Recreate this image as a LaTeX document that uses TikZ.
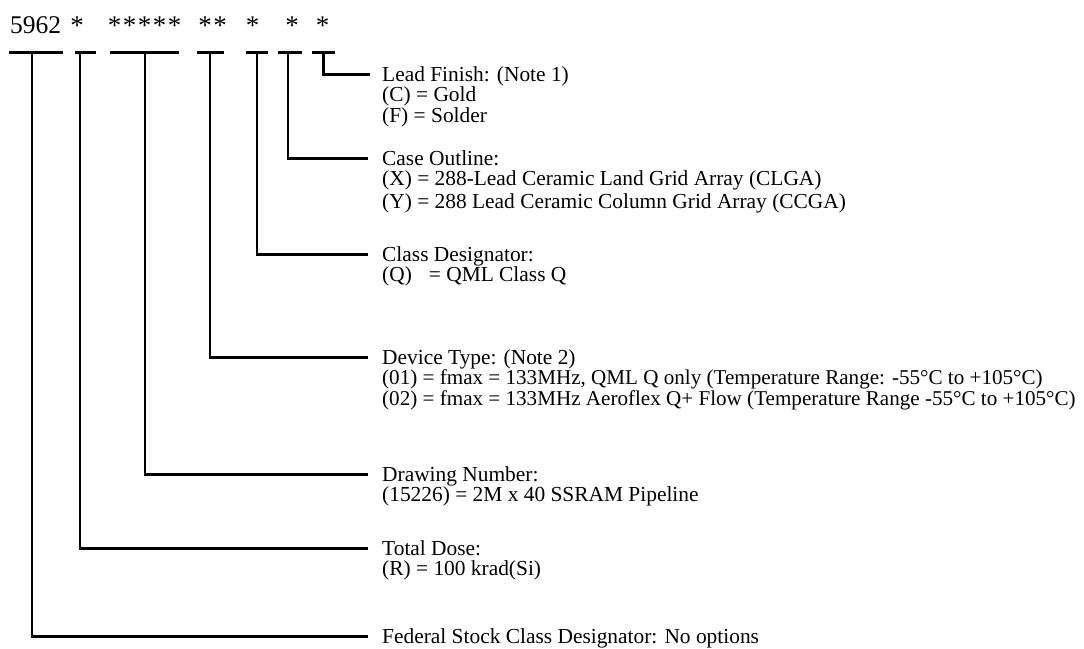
\documentclass[tikz,border=0pt]{standalone}
\usepackage{fontspec}
\setmainfont{Liberation Serif}
\begin{document}
\begin{tikzpicture}[x=1pt,y=-1pt,
  bar/.style={line width=3pt, line cap=butt},
  stem/.style={line width=1.5pt},
  lead/.style={line width=3pt, line join=miter},
  lbl/.style={anchor=base west, inner sep=0pt, text height=16pt, text depth=2pt, font=\fontsize{21.4}{20.5}\selectfont},
  narrow/.style={font=\fontsize{21.1}{20.5}\selectfont},
  top/.style={anchor=base, inner sep=0pt, font=\fontsize{25.5}{28}\selectfont},
  ast/.style={anchor=base, inner sep=0pt, font=\fontsize{27}{28}\selectfont}]
\useasboundingbox (0,0) rectangle (1084,648);
% top row
\node[top, anchor=base west] (num) at (10,33) {5962};
\foreach \n/\x in {a/77, b1/114.5, b2/129.5, b3/144.5, b4/159.5, b5/174.5, c1/205, c2/220, d/252.5, e/292, f/322.5}
  \node[ast] (ast\n) at (\x,34) {*};
% bars under the groups
\draw[bar] (9,52) -- (63,52);
\draw[bar] (75,52) -- (96,52);
\draw[bar] (110,52) -- (179,52);
\draw[bar] (197,52) -- (224,52);
\draw[bar] (246,52) -- (268,52);
\draw[bar] (278,52) -- (302,52);
\draw[bar] (312,52) -- (335,52);
\coordinate (s1) at (32,52);
\coordinate (s2) at (80,52);
\coordinate (s3) at (145,52);
\coordinate (s4) at (210,52);
\coordinate (s5) at (257,52);
\coordinate (s6) at (288,52);
\coordinate (s7) at (323,52);
% labels
\node[lbl] (leadA) at (382,81) {Lead Finish: (Note 1)};
\node[lbl] (leadB) at (382,101.5) {(C) = Gold};
\node[lbl] (leadC) at (382,122) {(F) = Solder};
\node[lbl] (caseA) at (382,165) {Case Outline:};
\node[lbl] (caseB) at (382,185.5) {(X) = 288-Lead Ceramic Land Grid Array (CLGA)};
\node[lbl] (caseC) at (382,208) {(Y) = 288 Lead Ceramic Column Grid Array (CCGA)};
\node[lbl] (classA) at (382,261) {Class Designator:};
\node[lbl] (classB) at (382,281.5) {(Q)\hspace{17pt}= QML Class Q};
\node[lbl] (devA) at (382,364) {Device Type: (Note 2)};
\node[lbl, narrow] (devB) at (382,384.5) {(01) = fmax = 133MHz, QML Q only (Temperature Range: -55°C to +105°C)};
\node[lbl, narrow] (devC) at (382,405) {(02) = fmax = 133MHz Aeroflex Q+ Flow (Temperature Range -55°C to +105°C)};
\node[lbl] (drwA) at (382,481) {Drawing Number:};
\node[lbl] (drwB) at (382,501.5) {(15226) = 2M x 40 SSRAM Pipeline};
\node[lbl] (totA) at (382,555) {Total Dose:};
\node[lbl] (totB) at (382,575.5) {(R) = 100 krad(Si)};
\node[lbl] (fedA) at (382,643) {Federal Stock Class Designator: No options};
% connectors
\draw[lead] (s7) |- ([xshift=-12pt]leadA.west);
\foreach \s/\t in {s6/caseA, s5/classA, s4/devA, s3/drwA, s2/totA, s1/fedA}{
  \draw[stem] (\s) -- (\s |- \t.west);
  \draw[bar] ([xshift=-0.75pt]\s |- \t.west) -- ([xshift=-14pt]\t.west);
}
\end{tikzpicture}
\end{document}
